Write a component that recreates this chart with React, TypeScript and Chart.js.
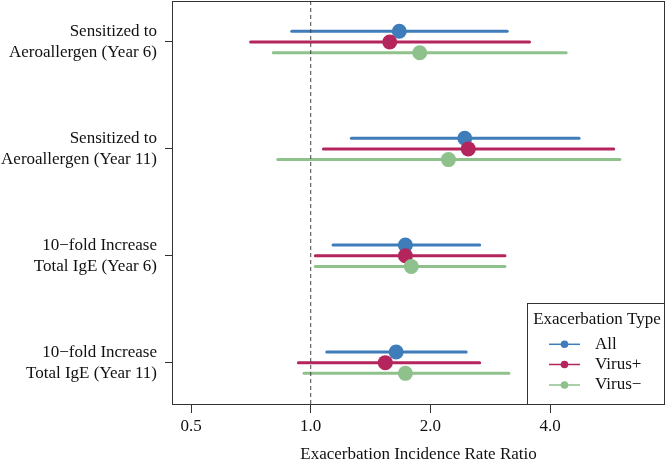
import React, { useEffect, useRef } from "react";
import { Chart, registerables } from "chart.js";

Chart.register(...registerables);

const categories: string[][] = [
  ["Sensitized to", "Aeroallergen (Year 6)"],
  ["Sensitized to", "Aeroallergen (Year 11)"],
  ["10\u2212fold Increase", "Total IgE (Year 6)"],
  ["10\u2212fold Increase", "Total IgE (Year 11)"],
];

const seriesNames = ["All", "Virus+", "Virus\u2212"];
const seriesColors = ["#3E7DB9", "#B5255D", "#8FC18C"];
const seriesOffsets = [-0.1, 0, 0.1];

const allEst = [1.67, 2.44, 1.73, 1.64];
const allLo = [0.896, 1.265, 1.138, 1.097];
const allHi = [3.12, 4.73, 2.66, 2.46];

const virusPosEst = [1.58, 2.49, 1.73, 1.54];
const virusPosLo = [0.706, 1.076, 1.027, 0.931];
const virusPosHi = [3.55, 5.78, 3.08, 2.66];

const virusNegEst = [1.88, 2.22, 1.79, 1.73];
const virusNegLo = [0.805, 0.826, 1.027, 0.962];
const virusNegHi = [4.39, 5.99, 3.08, 3.15];

const xTicks = [0.5, 1.0, 2.0, 4.0];
const xMin = 0.4478;
const xMax = 7.78;
const yMin = 0.6165;
const yMax = 4.396;
const refValue = 1.0;

const FONT = "'Liberation Serif', 'Times New Roman', serif";
const FS = 17;

const legendPlugin = {
  id: "forestLegendBox",
  afterDraw(chart: any) {
    const { ctx, chartArea } = chart;
    const { left, right, top, bottom } = chartArea;
    ctx.save();
    const bx = right - 138;
    const by = bottom - 102;
    ctx.fillStyle = "#ffffff";
    ctx.fillRect(bx, by, right - bx, bottom - by);
    ctx.strokeStyle = "#333333";
    ctx.lineWidth = 1;
    ctx.strokeRect(Math.round(bx) + 0.5, Math.round(by) + 0.5, Math.round(right - bx) - 1, Math.round(bottom - by) - 1);
    ctx.fillStyle = "#111111";
    ctx.font = `${FS}px ${FONT}`;
    ctx.textAlign = "center";
    ctx.textBaseline = "middle";
    ctx.fillText("Exacerbation Type", (bx + right) / 2 + 1, bottom - 85);
    const rows = [bottom - 60.7, bottom - 40.5, bottom - 20];
    seriesNames.forEach((name, k) => {
      const yy = rows[k];
      ctx.strokeStyle = seriesColors[k];
      ctx.lineWidth = 1.5;
      ctx.beginPath();
      ctx.moveTo(bx + 22, yy);
      ctx.lineTo(bx + 53, yy);
      ctx.stroke();
      ctx.fillStyle = seriesColors[k];
      ctx.beginPath();
      ctx.arc(bx + 37.5, yy, 3.8, 0, Math.PI * 2);
      ctx.fill();
      ctx.fillStyle = "#111111";
      ctx.textAlign = "left";
      ctx.fillText(name, bx + 68, yy);
    });
    ctx.strokeStyle = "#333333";
    ctx.lineWidth = 1;
    ctx.strokeRect(Math.round(left) + 0.5, Math.round(top) + 0.5, Math.round(right - left) - 1, Math.round(bottom - top) - 1);
    ctx.restore();
  },
};

export default function App() {
  const ref = useRef<HTMLCanvasElement | null>(null);

  useEffect(() => {
    if (!ref.current) return;
    const ests = [allEst, virusPosEst, virusNegEst];
    const los = [allLo, virusPosLo, virusNegLo];
    const his = [allHi, virusPosHi, virusNegHi];

    const datasets: any[] = [];
    datasets.push({
      label: "ref",
      data: [
        { x: refValue, y: yMin },
        { x: refValue, y: yMax },
      ],
      showLine: true,
      borderColor: "#444444",
      borderWidth: 1,
      borderDash: [4, 3],
      pointRadius: 0,
      order: 0,
    });
    seriesNames.forEach((name, k) => {
      const off = seriesOffsets[k];
      categories.forEach((_, i) => {
        datasets.push({
          label: `${name}-ci-${i}`,
          data: [
            { x: los[k][i], y: i + 1 + off },
            { x: his[k][i], y: i + 1 + off },
          ],
          showLine: true,
          borderColor: seriesColors[k],
          borderWidth: 3,
          borderCapStyle: "round",
          pointRadius: 0,
          order: 60 - k * 20,
        });
      });
      datasets.push({
        label: name,
        data: ests[k].map((v, i) => ({ x: v, y: i + 1 + off })),
        showLine: false,
        backgroundColor: seriesColors[k],
        borderWidth: 0,
        pointRadius: 7.5,
        order: 50 - k * 20,
      });
    });

    const chart = new Chart(ref.current, {
      type: "scatter",
      data: { datasets },
      options: {
        animation: false,
        responsive: false,
        layout: { autoPadding: false, padding: { top: 1, right: 1, bottom: 0, left: 0 } },
        plugins: { legend: { display: false }, tooltip: { enabled: false } },
        scales: {
          x: {
            type: "logarithmic",
            min: xMin,
            max: xMax,
            afterBuildTicks: (scale: any) => {
              scale.ticks = xTicks.map((v) => ({ value: v }));
            },
            afterFit: (scale: any) => {
              scale.height = 56;
              scale.paddingLeft = 0;
              scale.paddingRight = 0;
            },
            ticks: {
              autoSkip: false,
              maxRotation: 0,
              padding: 3,
              color: "#111111",
              font: { family: FONT, size: FS },
              callback: (v: any) => Number(v).toFixed(1),
            },
            grid: { display: true, drawOnChartArea: false, drawTicks: true, tickLength: 8, color: "#333333" },
            border: { display: false },
            title: {
              display: true,
              text: "Exacerbation Incidence Rate Ratio",
              color: "#111111",
              font: { family: FONT, size: FS, lineHeight: 0.8 },
              padding: 0,
            },
          },
          y: {
            type: "linear",
            reverse: true,
            min: yMin,
            max: yMax,
            afterBuildTicks: (scale: any) => {
              scale.ticks = categories.map((_, i) => ({ value: i + 1 }));
            },
            afterFit: (scale: any) => {
              scale.width = 172;
              scale.paddingTop = 0;
              scale.paddingBottom = 0;
            },
            ticks: {
              autoSkip: false,
              padding: 8,
              color: "#111111",
              font: { family: FONT, size: FS, lineHeight: 1.22 },
              callback: (v: any) => categories[Math.round(Number(v)) - 1] || "",
            },
            grid: { display: true, drawOnChartArea: false, drawTicks: true, tickLength: 7, color: "#333333" },
            border: { display: false },
          },
        },
      },
      plugins: [legendPlugin],
    } as any);
    return () => chart.destroy();
  }, []);

  return (
    <div style={{ position: "fixed", left: 0, top: 0, width: 666, height: 461, background: "#fff" }}>
      <canvas ref={ref} width={666} height={461} style={{ display: "block", width: 666, height: 461 }} />
    </div>
  );
}
